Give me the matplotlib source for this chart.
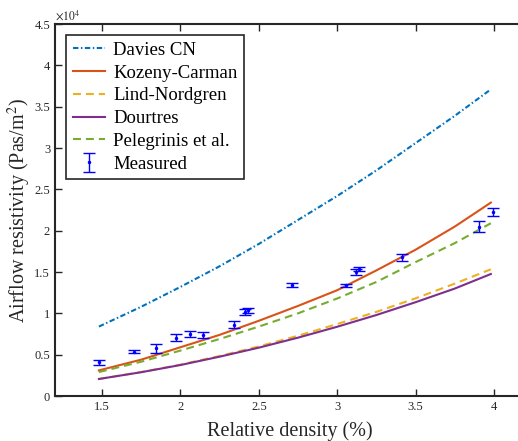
import numpy as np
import matplotlib
matplotlib.use('Agg')
import matplotlib.pyplot as plt
from matplotlib.ticker import FuncFormatter

plt.rcParams['font.family'] = ['Liberation Serif', 'DejaVu Serif']
plt.rcParams['mathtext.fontset'] = 'stix'

# model curves
x_model = [1.48, 1.75, 2.0, 2.25, 2.5, 2.75, 3.0, 3.25, 3.5, 3.75, 3.98]
davies = [8400, 10800, 13200, 15700, 18400, 21300, 24200, 27300, 30600, 33900, 37100]
kozeny = [3100, 4400, 5900, 7400, 9100, 10900, 12800, 15200, 17700, 20500, 23400]
lind = [2060, 2900, 3800, 4840, 6000, 7290, 8710, 10180, 11820, 13600, 15330]
dourtres = [2060, 2880, 3750, 4760, 5850, 7060, 8380, 9800, 11350, 13000, 14760]
pelegrinis = [2900, 4150, 5500, 6900, 8400, 10000, 11800, 13800, 16200, 18500, 20900]

# measurements
x_meas = [1.483, 1.706, 1.845, 1.970, 2.064, 2.145, 2.339, 2.41, 2.43, 2.710,
          3.059, 3.118, 3.14, 3.414, 3.906, 3.992]
y_meas = [4080, 5360, 5770, 7060, 7500, 7420, 8630, 10200, 10400, 13390,
          13390, 15040, 15360, 16780, 20480, 22220]
err_meas = [330, 200, 580, 390, 350, 350, 460, 350, 300, 250,
            220, 350, 250, 420, 690, 480]

axcol = (0.15, 0.15, 0.15)

fig = plt.figure(figsize=(5.18, 4.41), dpi=100)
ax = fig.add_axes([0.1062, 0.102, 0.908, 0.8435])

lw = 1.5
ax.plot(x_model, davies, color='#0072BD', lw=lw, dashes=(2.6, 1.2, 0.7, 1.2),
        label='Davies CN')
ax.plot(x_model, kozeny, '-', color='#D95319', lw=lw, label='Kozeny-Carman')
ax.plot(x_model, lind, color='#EDB120', lw=lw, dashes=(3.8, 2.4),
        label='Lind-Nordgren')
ax.plot(x_model, dourtres, '-', color='#7E2F8E', lw=lw, label='Dourtres')
ax.plot(x_model, pelegrinis, color='#77AC30', lw=lw, dashes=(3.8, 2.4),
        label='Pelegrinis et al.')
ax.errorbar(x_meas, y_meas, yerr=err_meas, fmt='.', color='b', ms=3,
            elinewidth=1, capsize=4, capthick=1, label='Measured')

ax.set_xlim(1.2, 4.2)
ax.set_ylim(0, 45000)
ax.set_xticks([1.5, 2, 2.5, 3, 3.5, 4])
ax.set_xticklabels(['1.5', '2', '2.5', '3', '3.5', '4'])
ax.set_yticks(np.arange(0, 45001, 5000))
ax.yaxis.set_major_formatter(FuncFormatter(lambda v, p: '%g' % (v / 1e4)))

ax.tick_params(direction='in', top=True, right=True, length=5, width=1,
               colors=axcol, labelsize=9)
for s in ax.spines.values():
    s.set_linewidth(1.5)
    s.set_color(axcol)

ax.set_xlabel('Relative density (%)', fontsize=14.5, color=axcol, labelpad=6)
ax.set_ylabel('Airflow resistivity (Pas/m$^2$)', fontsize=14.5, color=axcol)
ax.yaxis.set_label_coords(-0.046, 0.5)
ax.text(0.0, 1.005, r'$\times10^4$', transform=ax.transAxes, fontsize=8.5,
        color=axcol, ha='left', va='bottom')

leg = ax.legend(loc='upper left', fontsize=13.5, fancybox=False, framealpha=1,
                edgecolor=axcol, handlelength=1.7, handletextpad=0.45,
                borderaxespad=0.6, labelspacing=0.3, borderpad=0.35)
leg.get_frame().set_linewidth(1.2)

plt.savefig('out.png', dpi=100)
